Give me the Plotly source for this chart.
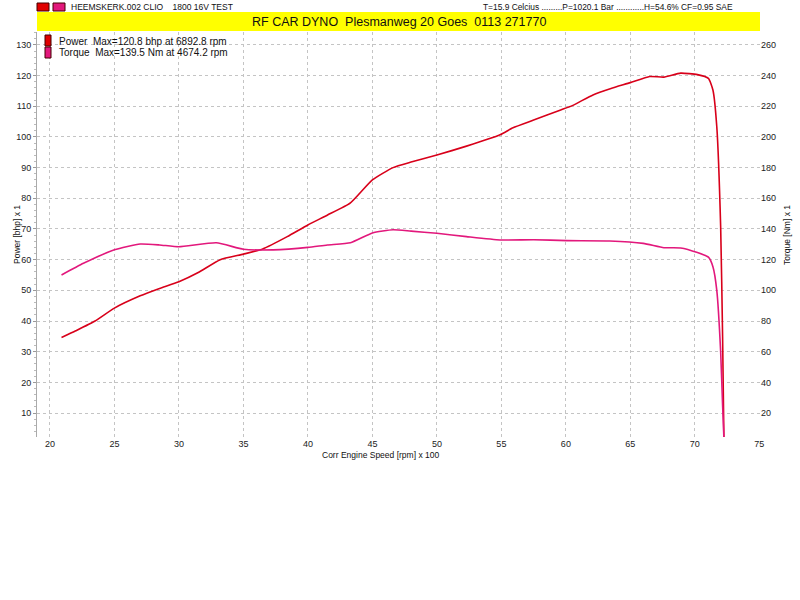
import plotly.graph_objects as go

# Data (rpm x 100)
power_rpm = [20.9, 22.0, 23.5, 25.0, 27.0, 28.5, 30.0, 31.5, 33.2, 35.0, 36.5, 38.4, 40.0, 41.5, 43.3,
             45.0, 46.6, 48.0, 50.0, 52.3, 54.9, 55.9, 57.5, 59.6, 60.5, 62.1, 63.5, 65.0, 66.5, 67.6,
             68.9, 70.2, 71.05, 71.4, 71.7, 72.0, 72.15, 72.25]
power_bhp = [34.6, 36.8, 40.0, 44.2, 48.2, 50.6, 52.8, 55.8, 60.0, 61.8, 63.5, 67.5, 71.3, 74.5, 78.5,
             86.0, 90.0, 91.8, 94.1, 97.0, 100.7, 103.0, 105.5, 108.8, 110.2, 113.7, 115.8, 117.7, 119.7, 119.5,
             120.8, 120.3, 119.1, 115.3, 103.3, 70.7, 35.0, 2.2]

torque_rpm = [20.9, 22.6, 25.0, 27.0, 28.5, 30.0, 32.9, 35.0, 37.3, 40.0, 41.5, 43.3, 45.0, 46.6, 48.0,
              50.0, 52.3, 54.9, 57.5, 60.1, 63.4, 66.0, 67.6, 68.9, 70.2, 71.05, 71.4, 71.7, 72.0, 72.15, 72.25]
torque_nm = [110.0, 117.6, 126.4, 130.2, 129.6, 128.4, 131.0, 126.8, 126.4, 128.0, 129.6, 131.0, 137.4, 139.5, 138.6,
             137.2, 135.0, 132.8, 133.0, 132.4, 132.2, 130.6, 127.8, 127.6, 124.6, 121.6, 115.4, 100.0, 60.0, 25.0, 4.4]

left_ticks = [10, 20, 30, 40, 50, 60, 70, 80, 90, 100, 110, 120, 130]
right_ticks = [20, 40, 60, 80, 100, 120, 140, 160, 180, 200, 220, 240, 260]
x_ticks = [20, 25, 30, 35, 40, 45, 50, 55, 60, 65, 70, 75]

POWER_C = "#d8001a"
TORQUE_C = "#e2187c"
FONT = "Liberation Sans"

fig = go.Figure()
fig.add_trace(go.Scatter(x=power_rpm, y=power_bhp, mode="lines", line=dict(color=POWER_C, width=1.6, shape="spline", smoothing=0.5),
                         name="Power", yaxis="y"))
fig.add_trace(go.Scatter(x=torque_rpm, y=torque_nm, mode="lines", line=dict(color=TORQUE_C, width=1.6, shape="spline", smoothing=0.5),
                         name="Torque", yaxis="y2"))

W, H = 800, 600
ml, mr, mt, mb = 37, 40, 32, 163
pw, ph = W - ml - mr, H - mt - mb

def px(xp):
    return (xp - ml) / pw

def py(yp):
    return (H - mb - yp) / ph

grid = dict(showgrid=True, gridcolor="#c4c4c4", griddash="dot", gridwidth=1)

fig.update_layout(
    width=W, height=H,
    margin=dict(l=ml, r=mr, t=mt, b=mb),
    paper_bgcolor="white", plot_bgcolor="white",
    showlegend=False,
    font=dict(family=FONT, size=9, color="#222"),
    xaxis=dict(range=[19, 75.05], tickvals=x_ticks, ticks="", showline=False, zeroline=False,
               tickfont=dict(size=9), **grid),
    yaxis=dict(range=[2.2, 134.2], tickvals=left_ticks, ticks="outside", ticklen=3, tickcolor="#999",
               showline=True, linecolor="#aaa", zeroline=False, tickfont=dict(size=9),
               minor=dict(ticks="outside", ticklen=2, tickcolor="#bbb", dtick=2), **grid),
    yaxis2=dict(range=[4.4, 268.4], tickvals=right_ticks, overlaying="y", side="right", ticks="",
                showgrid=False, zeroline=False, showline=False, tickfont=dict(size=9)),
)

shapes = [
    # yellow title bar
    dict(type="rect", xref="paper", yref="paper", x0=px(37), x1=px(760), y0=py(31), y1=py(12),
         fillcolor="#ffff00", line=dict(width=0), layer="above"),
    # header squares
    dict(type="rect", xref="paper", yref="paper", x0=px(37), x1=px(49), y0=py(11), y1=py(3),
         fillcolor="#e00000", line=dict(color="#400", width=1)),
    dict(type="rect", xref="paper", yref="paper", x0=px(53), x1=px(65), y0=py(11), y1=py(3),
         fillcolor=TORQUE_C, line=dict(color="#400", width=1)),
    # legend squares
    dict(type="rect", xref="paper", yref="paper", x0=px(45), x1=px(51), y0=py(46), y1=py(35),
         fillcolor="#e00000", line=dict(color="#400", width=1)),
    dict(type="rect", xref="paper", yref="paper", x0=px(45), x1=px(51), y0=py(58), y1=py(47),
         fillcolor=TORQUE_C, line=dict(color="#400", width=1)),
]
fig.update_layout(shapes=shapes)

ann = [
    dict(text="HEEMSKERK.002 CLIO    1800 16V TEST", x=px(69), y=py(7), xanchor="left", yanchor="middle",
         font=dict(size=8.5, color="#111")),
    dict(text="T=15.9 Celcius .........P=1020.1 Bar ............H=54.6% CF=0.95 SAE", x=px(481), y=py(7),
         xanchor="left", yanchor="middle", font=dict(size=8.4, color="#111")),
    dict(text="RF CAR DYNO  Plesmanweg 20 Goes  0113 271770", x=px(399), y=py(21.5), xanchor="center",
         yanchor="middle", font=dict(size=12.5, color="#111")),
    dict(text="Power  Max=120.8 bhp at 6892.8 rpm", x=px(57), y=py(41), xanchor="left", yanchor="middle",
         font=dict(size=10, color="#111")),
    dict(text="Torque  Max=139.5 Nm at 4674.2 rpm", x=px(57), y=py(53), xanchor="left", yanchor="middle",
         font=dict(size=10, color="#111")),
    dict(text="Power [bhp] x 1", x=px(17), y=py(235), xanchor="center", yanchor="middle", textangle=-90,
         font=dict(size=8.5, color="#111")),
    dict(text="Torque [Nm] x 1", x=px(787), y=py(235), xanchor="center", yanchor="middle", textangle=-90,
         font=dict(size=8.5, color="#111")),
    dict(text="Corr Engine Speed [rpm] x 100", x=px(380), y=py(455), xanchor="center", yanchor="middle",
         font=dict(size=8.5, color="#111")),
]
for a in ann:
    a.update(xref="paper", yref="paper", showarrow=False)
fig.update_layout(annotations=ann)

fig.write_html("out.html", config={"displayModeBar": False},
               post_script="document.body.style.margin='0';document.body.style.overflow='hidden';")
